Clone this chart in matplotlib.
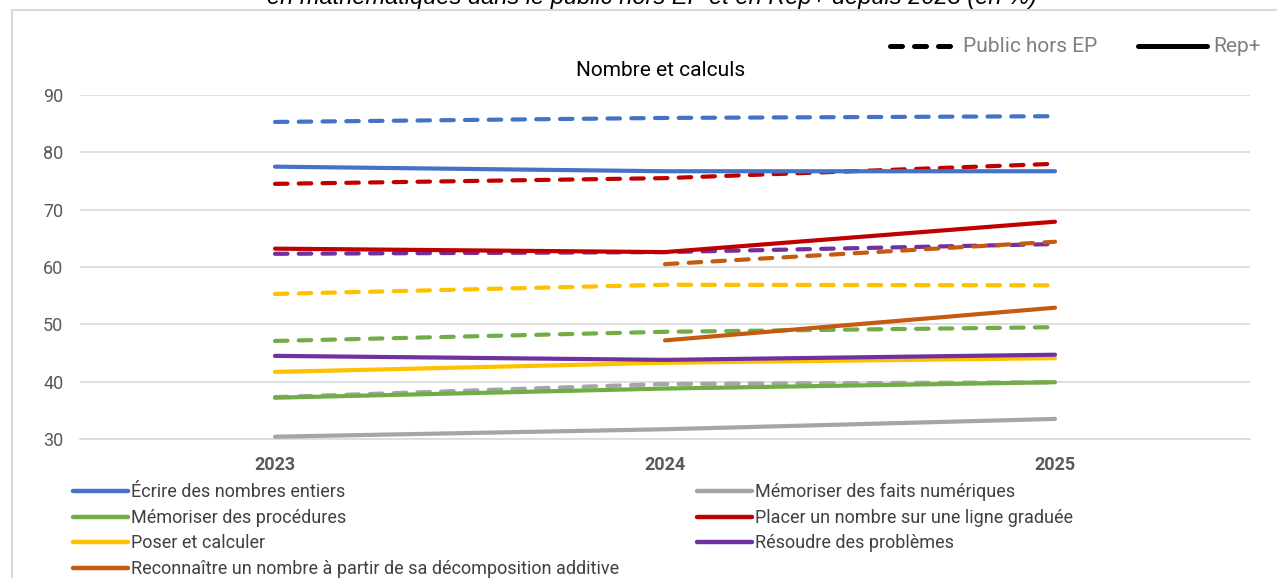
import matplotlib.pyplot as plt
from matplotlib.lines import Line2D

plt.rcParams['font.family'] = ['Roboto', 'DejaVu Sans']

W, H = 1277, 578

years = ['2023', '2024', '2025']

labels = [
    'Écrire des nombres entiers',
    'Mémoriser des faits numériques',
    'Mémoriser des procédures',
    'Placer un nombre sur une ligne graduée',
    'Poser et calculer',
    'Résoudre des problèmes',
    'Reconnaître un nombre à partir de sa décomposition additive',
]
colors = ['#4472C4', '#A5A5A5', '#70AD47', '#C00000', '#FFC000', '#7030A0', '#C55A11']

# Public hors EP (dashed)
public_ep = [
    [85.3, 86.0, 86.3],
    [37.3, 39.6, 39.9],
    [47.1, 48.7, 49.5],
    [74.5, 75.5, 78.0],
    [55.3, 56.9, 56.8],
    [62.3, 62.6, 64.0],
    [None, 60.5, 64.4],
]
# Rep+ (solid)
rep_plus = [
    [77.5, 76.7, 76.7],
    [30.4, 31.7, 33.5],
    [37.2, 38.8, 39.9],
    [63.2, 62.6, 67.9],
    [41.7, 43.3, 44.1],
    [44.5, 43.8, 44.7],
    [None, 47.2, 52.9],
]


def fx(px):
    return px / W


def fy(py):
    return 1 - py / H


fig = plt.figure(figsize=(W / 100, H / 100), dpi=100)
ax = fig.add_axes([fx(80), fy(439), 1170 / W, 344 / H])

dash = (0, (3.0, 2.7))
x = list(range(len(years)))
for i in range(len(labels)):
    xs = [xi for xi, v in zip(x, public_ep[i]) if v is not None]
    ys = [v for v in public_ep[i] if v is not None]
    ax.plot(xs, ys, color=colors[i], lw=3, linestyle=dash,
            dash_capstyle='round', solid_capstyle='round', zorder=3)
for i in range(len(labels)):
    xs = [xi for xi, v in zip(x, rep_plus[i]) if v is not None]
    ys = [v for v in rep_plus[i] if v is not None]
    ax.plot(xs, ys, color=colors[i], lw=3, solid_capstyle='round', zorder=4)

ax.set_xlim(-0.5, 2.5)
ax.set_ylim(30, 90)
ax.set_yticks(range(30, 91, 10))
ax.set_xticks(x)
ax.set_xticklabels(years, fontweight='bold', fontsize=13, color='#595959')
ax.tick_params(axis='y', length=0, labelsize=13, labelcolor='#595959', pad=12)
ax.tick_params(axis='x', length=0, pad=12)
ax.grid(axis='y', color='#D9D9D9', lw=1.2)
ax.set_axisbelow(True)
for s in ['top', 'right', 'left']:
    ax.spines[s].set_visible(False)
ax.spines['bottom'].set_color('#D9D9D9')
ax.spines['bottom'].set_linewidth(1.2)

fig.text(fx(661), fy(70), 'Nombre et calculs', ha='center', va='center',
         fontsize=15, color='#000000')

# heading, cut at the top edge as in the source image
fig.text(fx(652), fy(4), 'en mathématiques dans le public hors EP et en Rep+ depuis 2023 (en %)',
         ha='center', va='baseline', fontsize=17, style='italic', color='#000000',
         family=['Liberation Sans', 'DejaVu Sans'])

# frame
fig.add_artist(Line2D([fx(12), 1], [fy(10), fy(10)], color='#D9D9D9', lw=1.5))
fig.add_artist(Line2D([fx(12), fx(12)], [0, fy(10)], color='#D9D9D9', lw=1.5))

# style key (top right)
fig.add_artist(Line2D([fx(889.5), fx(949.5)], [fy(46), fy(46)], color='black', lw=3.6,
                      linestyle=(0, (2.4, 2.4)), dash_capstyle='round'))
fig.text(fx(963), fy(46), 'Public hors EP', ha='left', va='center', fontsize=15, color='#7F7F7F')
fig.add_artist(Line2D([fx(1138), fx(1207)], [fy(46), fy(46)], color='black', lw=3.6,
                      solid_capstyle='round'))
fig.text(fx(1213), fy(46), 'Rep+', ha='left', va='center', fontsize=15, color='#7F7F7F')

# series legend (bottom), column-wise order
order = [0, 2, 4, 6, 1, 3, 5]
handles = [Line2D([], [], color=colors[i], lw=3.2, solid_capstyle='round') for i in order]
fig.legend(handles, [labels[i] for i in order], loc='upper left',
           bbox_to_anchor=(fx(66), fy(476)), ncol=2, frameon=False,
           fontsize=13, handlelength=3.05, handletextpad=0.17, columnspacing=4.3,
           labelspacing=0.42, labelcolor='#404040', borderaxespad=0)

fig.savefig('out.png', dpi=100)
